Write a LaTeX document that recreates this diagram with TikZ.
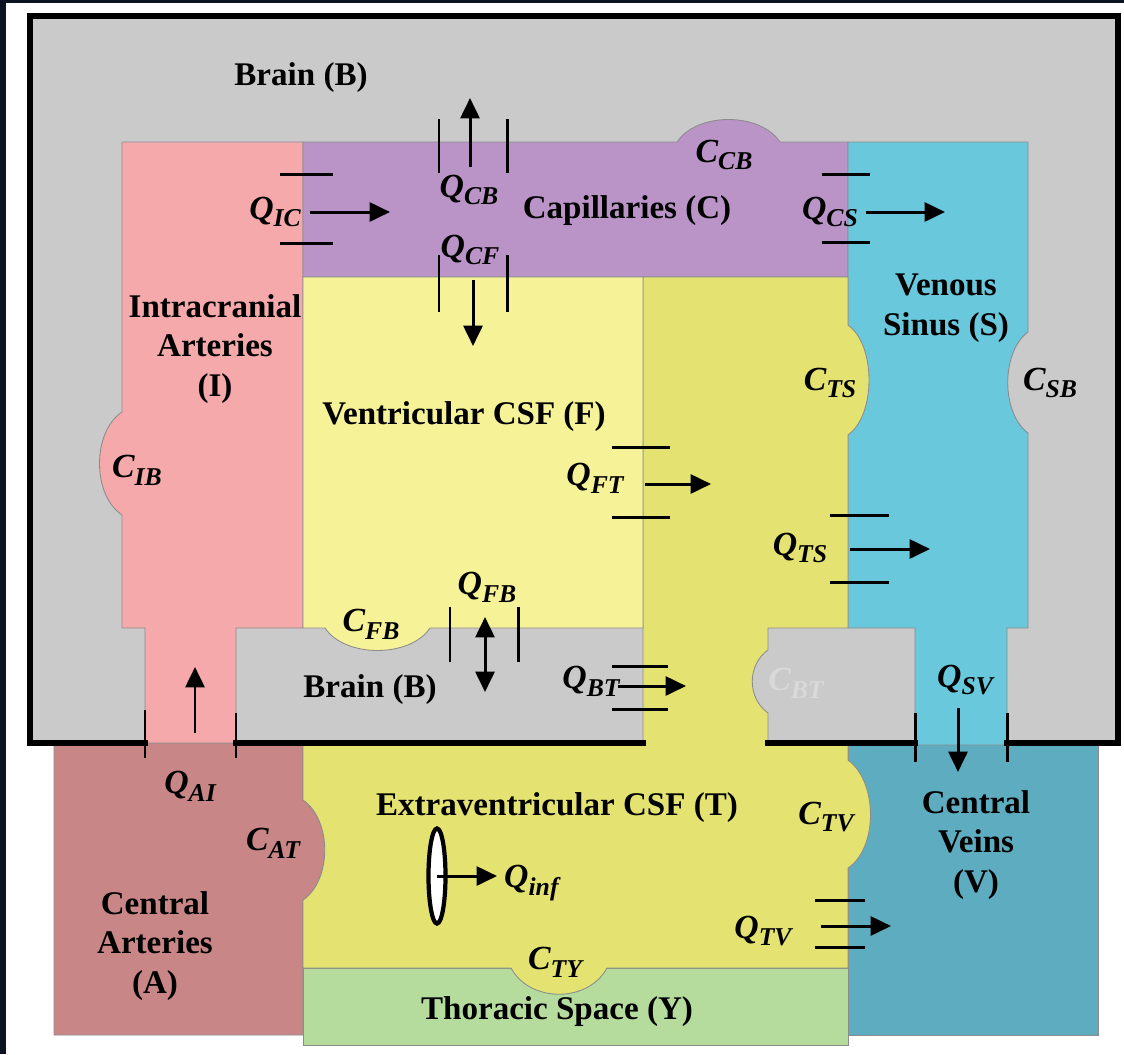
\documentclass[tikz,border=0pt]{standalone}
\usepackage{fontspec}
\setmainfont{Liberation Serif}
\usepackage{xcolor}
\usetikzlibrary{arrows.meta,shapes.geometric}
\definecolor{frame}{HTML}{0B1420}
\definecolor{brain}{HTML}{CBCACB}
\definecolor{ghost}{HTML}{D9D9D9}
\definecolor{artI}{HTML}{F5A9AA}
\definecolor{capC}{HTML}{BA94C7}
\definecolor{sinS}{HTML}{69C8DC}
\definecolor{csfF}{HTML}{F6F298}
\definecolor{csfT}{HTML}{E4E371}
\definecolor{artA}{HTML}{C98686}
\definecolor{veinV}{HTML}{5EACC0}
\definecolor{thorY}{HTML}{B5DC9D}
\newcommand{\csym}[2]{{\bfseries\itshape #1\raisebox{-2.2pt}{\fontsize{7.3}{8}\selectfont #2}}}

\begin{document}
\begin{tikzpicture}[
  x=0.01cm, y=-0.01cm,
  region/.style={draw=black!45, line width=0.25pt},
  lab/.style={font=\fontsize{9.4}{11.2}\selectfont\bfseries, align=center, inner sep=1pt},
  sym/.style={font=\fontsize{9.6}{11}\selectfont, inner sep=1pt},
  flow/.style={line width=0.85pt},
  bar/.style={line width=0.85pt},
  wall/.style={line width=1.5pt, line cap=rect},
  infuse/.style={draw, ellipse, fill=white, line width=1.2pt, inner sep=0pt, minimum width=0.17cm, minimum height=0.95cm},
  >={Triangle[length=5.8pt,width=5.4pt]}
]
  \fill[white] (0,0) rectangle (1124,1054);
  \fill[frame] (0,0) rectangle (6,1054);
  \fill[frame] (0,0) rectangle (1124,3);
  \useasboundingbox (0,0) rectangle (1124,1054);

  % compartments
  \fill[brain] (30,16) rectangle (1118,743);
  \filldraw[region, fill=artA] (54,743) -- (303,743) -- (303,800) .. controls (332,820) and (332,880) .. (303,900) -- (303,1035) -- (54,1035) -- cycle;
  \filldraw[region, fill=veinV] (848,743) rectangle (1098,1035);
  \filldraw[region, fill=thorY] (303,968) rectangle (848,1045);
  \filldraw[region, fill=artI] (122,142) -- (303,142) -- (303,628) -- (236,628) -- (236,743) -- (145,743) -- (145,628) -- (122,628) -- (122,515) .. controls (92,495) and (92,432) .. (122,412) -- cycle;
  \filldraw[region, fill=capC] (303,142) -- (677,142) .. controls (697,112) and (760,112) .. (780,142) -- (848,142) -- (848,277) -- (303,277) -- cycle;
  \filldraw[region, fill=sinS] (848,142) -- (1028,142) -- (1028,332) .. controls (1001,352) and (1001,413) .. (1028,433) -- (1028,628) -- (1007,628) -- (1007,745) -- (915,745) -- (915,628) -- (848,628) -- cycle;
  \filldraw[region, fill=csfT] (643,277) -- (848,277) -- (848,325) .. controls (876,345) and (876,415) .. (848,435) -- (848,628) -- (768,628) -- (768,650) .. controls (747,665) and (747,698) .. (768,713) -- (768,743) -- (848,743) -- (848,760) .. controls (878,782) and (878,848) .. (848,868) -- (848,968) -- (607,968) .. controls (588,1003) and (530,1003) .. (511,968) -- (303,968) -- (303,900) .. controls (332,880) and (332,820) .. (303,800) -- (303,743) -- (643,743) -- cycle;
  \filldraw[region, fill=csfF] (303,277) -- (643,277) -- (643,628) -- (430,628) .. controls (410,658) and (345,658) .. (325,628) -- (303,628) -- cycle;

  % skull wall
  \draw[wall] (145,743) -- (30,743) -- (30,16) -- (1118,16) -- (1118,743) -- (1007,743);
  \draw[wall] (236,743) -- (643,743);
  \draw[wall] (768,743) -- (915,743);

  % compartment labels
  \node[lab] (brainTop) at (301,78) {Brain (B)};
  \node[lab] (capLab) at (627,211) {Capillaries (C)};
  \node[lab] (intLab) at (215,349) {Intracranial\\Arteries\\(I)};
  \node[lab] (ventLab) at (464,417) {Ventricular CSF (F)};
  \node[lab] (sinLab) at (946,308) {Venous\\Sinus (S)};
  \node[lab] (brainLow) at (370,690) {Brain (B)};
  \node[lab] (extLab) at (557,808) {Extraventricular CSF (T)};
  \node[lab] (cvLab) at (976,845) {Central\\Veins\\(V)};
  \node[lab] (caLab) at (155,946) {Central\\Arteries\\(A)};
  \node[lab] (thorLab) at (557,1012) {Thoracic Space (Y)};

  % compliances
  \node[sym] (cib) at (137,470) {\csym{C}{IB}};
  \node[sym] (ccb) at (724,155) {\csym{C}{CB}};
  \node[sym] (cts) at (830,383) {\csym{C}{TS}};
  \node[sym] (csb) at (1050,383) {\csym{C}{SB}};
  \node[sym] (cfb) at (371,624) {\csym{C}{FB}};
  \node[sym, text=ghost] (cbt) at (796,683) {\csym{C}{BT}};
  \node[sym] (cat) at (273,843) {\csym{C}{AT}};
  \node[sym] (ctv) at (826,817) {\csym{C}{TV}};
  \node[sym] (cty) at (555,962) {\csym{C}{TY}};

  % flows
  \node[sym] (qic) at (275,212) {\csym{Q}{IC}};
  \draw[bar] (280,174) -- (333,174);
  \draw[bar] (280,243) -- (333,243);
  \coordinate (qicA) at (310,212);
  \coordinate (qicB) at (390,212);
  \draw[flow,->] (qicA) -- (qicB);

  \node[sym] (qcb) at (469,190) {\csym{Q}{CB}};
  \draw[bar] (439,119) -- (439,173);
  \draw[bar] (507,119) -- (507,173);
  \coordinate (qcbA) at (470,167);
  \coordinate (qcbB) at (470,98);
  \draw[flow,->] (qcbA) -- (qcbB);

  \node[sym] (qcf) at (470,250) {\csym{Q}{CF}};
  \draw[bar] (439,255) -- (439,312);
  \draw[bar] (507,255) -- (507,312);
  \coordinate (qcfA) at (473,280);
  \coordinate (qcfB) at (473,346);
  \draw[flow,->] (qcfA) -- (qcfB);

  \node[sym] (qcs) at (830,212) {\csym{Q}{CS}};
  \draw[bar] (822,174) -- (870,174);
  \draw[bar] (822,242) -- (870,242);
  \coordinate (qcsA) at (866,212);
  \coordinate (qcsB) at (945,212);
  \draw[flow,->] (qcsA) -- (qcsB);

  \node[sym] (qft) at (595,478) {\csym{Q}{FT}};
  \draw[bar] (612,447) -- (670,447);
  \draw[bar] (612,517) -- (670,517);
  \coordinate (qftA) at (645,484);
  \coordinate (qftB) at (711,484);
  \draw[flow,->] (qftA) -- (qftB);

  \node[sym] (qts) at (800,548) {\csym{Q}{TS}};
  \draw[bar] (830,515) -- (889,515);
  \draw[bar] (830,582) -- (889,582);
  \coordinate (qtsA) at (850,549);
  \coordinate (qtsB) at (930,549);
  \draw[flow,->] (qtsA) -- (qtsB);

  \node[sym] (qfb) at (487,587) {\csym{Q}{FB}};
  \draw[bar] (450,607) -- (450,662);
  \draw[bar] (518,607) -- (518,662);
  \coordinate (qfbA) at (485,617);
  \coordinate (qfbB) at (485,692);
  \draw[flow,<->] (qfbA) -- (qfbB);

  \node[sym] (qbt) at (591,681) {\csym{Q}{BT}};
  \draw[bar] (612,666) -- (668,666);
  \draw[bar] (612,709) -- (668,709);
  \coordinate (qbtA) at (618,686);
  \coordinate (qbtB) at (686,686);
  \draw[flow,->] (qbtA) -- (qbtB);

  \node[sym] (qsv) at (965,680) {\csym{Q}{SV}};
  \draw[bar] (915,713) -- (915,762);
  \draw[bar] (1007,713) -- (1007,762);
  \coordinate (qsvA) at (958,708);
  \coordinate (qsvB) at (958,772);
  \draw[flow,->] (qsvA) -- (qsvB);

  \node[sym] (qai) at (190,786) {\csym{Q}{AI}};
  \draw[bar] (145,710) -- (145,758);
  \draw[bar] (236,713) -- (236,758);
  \coordinate (qaiA) at (195,733);
  \coordinate (qaiB) at (195,667);
  \draw[flow,->] (qaiA) -- (qaiB);

  \node[infuse] (pump) at (437,876) {};
  \node[sym, anchor=west] (qinf) at (500,883) {\csym{Q}{inf}};
  \coordinate (qinfB) at (497,876);
  \draw[flow,->] (pump.center) -- (qinfB);

  \node[sym] (qtv) at (763,931) {\csym{Q}{TV}};
  \draw[bar] (815,900) -- (865,900);
  \draw[bar] (815,947) -- (865,947);
  \coordinate (qtvA) at (821,926);
  \coordinate (qtvB) at (891,926);
  \draw[flow,->] (qtvA) -- (qtvB);
\end{tikzpicture}
\end{document}
